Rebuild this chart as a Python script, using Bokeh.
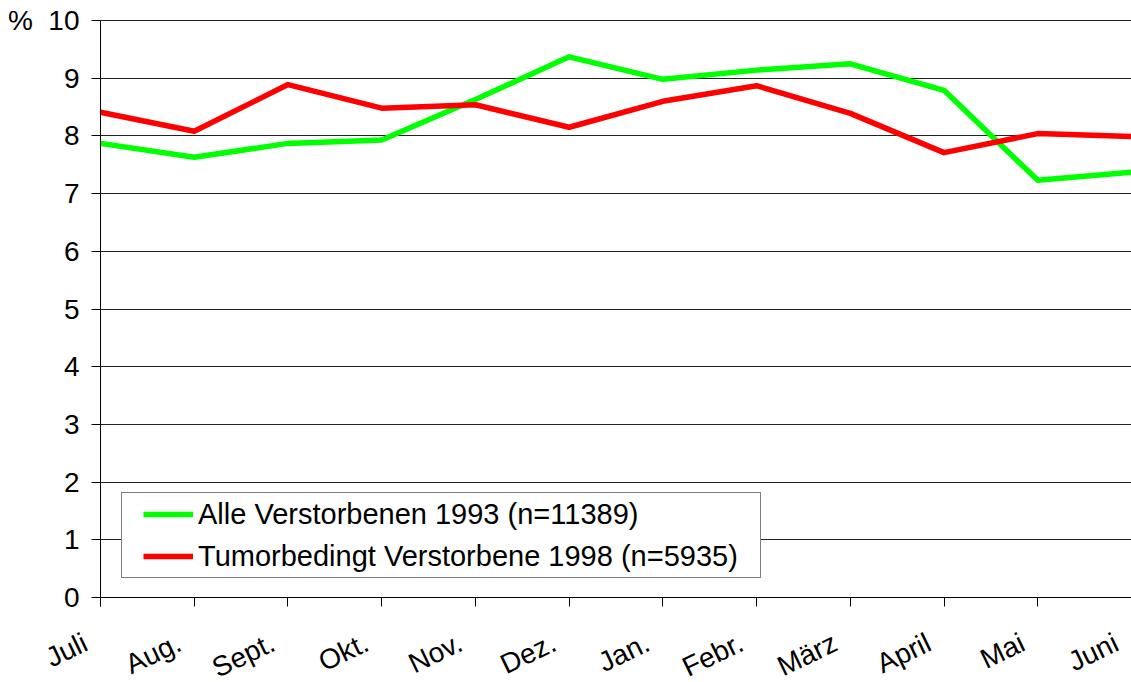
from bokeh.plotting import figure
from bokeh.models import Range1d, FixedTicker, Legend, LegendItem, LabelSet, ColumnDataSource
from bokeh.core.properties import value
from bokeh.embed import file_html
from bokeh.resources import INLINE

months = ["Juli", "Aug.", "Sept.", "Okt.", "Nov.", "Dez.", "Jan.", "Febr.", "März", "April", "Mai", "Juni"]
alle_1993 = [7.87, 7.63, 7.87, 7.93, 8.63, 9.37, 8.98, 9.14, 9.25, 8.79, 7.23, 7.37]
tumor_1998 = [8.41, 8.08, 8.89, 8.48, 8.54, 8.15, 8.60, 8.87, 8.39, 7.71, 8.04, 7.99]
y_ticks = [0, 1, 2, 3, 4, 5, 6, 7, 8, 9, 10]
y_unit = "%"
label_alle = "Alle Verstorbenen 1993 (n=11389)"
label_tumor = "Tumorbedingt Verstorbene 1998 (n=5935)"

xs = list(range(len(months)))
n_last = len(months) - 1
y_max = 10

# layout: the frame fills the whole canvas; axes sit at fixed data locations
W, H = 1131, 682
TOP_SPACE, BOTTOM_SPACE, LEFT_SPACE = 20, 85, 100
py_per_unit = (H - TOP_SPACE - BOTTOM_SPACE) / y_max
px_per_unit = (W - LEFT_SPACE) / n_last
y_start = -BOTTOM_SPACE / py_per_unit
y_end = y_max + TOP_SPACE / py_per_unit
x_start = -LEFT_SPACE / px_per_unit

p = figure(width=W, height=H, output_backend="svg", toolbar_location=None,
           x_range=Range1d(x_start, n_last), y_range=Range1d(y_start, y_end),
           min_border_left=0, min_border_right=0, min_border_top=0, min_border_bottom=0)
p.background_fill_color = "white"
p.border_fill_color = "white"
p.outline_line_color = None

FONT = "Liberation Sans"

p.xaxis.ticker = FixedTicker(ticks=xs)
p.xaxis.fixed_location = 0
p.xaxis.bounds = (0, n_last)
p.yaxis.ticker = FixedTicker(ticks=y_ticks)
p.yaxis.fixed_location = 0
p.yaxis.bounds = (-9 / py_per_unit, y_max)
p.yaxis.major_label_overrides = {y_max: y_unit + "\u00a0\u00a0" + str(y_max)}
for ax in (p.xaxis, p.yaxis):
    ax.axis_line_color = "black"
    ax.axis_line_width = 1
    ax.major_tick_line_color = "black"
    ax.major_tick_in = 0
    ax.major_tick_out = 9
    ax.minor_tick_line_color = None
    ax.major_label_text_font = FONT
    ax.major_label_text_font_size = "28px"
    ax.major_label_text_color = "black"
p.yaxis.major_label_standoff = 12
p.xaxis.major_label_text_color = None

p.xgrid.grid_line_color = None
p.ygrid.ticker = FixedTicker(ticks=y_ticks)
p.ygrid.grid_line_color = "#222222"
p.ygrid.grid_line_width = 1
try:
    p.ygrid.cross_bounds = (0, n_last)
except Exception:
    pass

r1 = p.line(xs, alle_1993, line_color="#00FF00", line_width=5.5, line_join="round")
r2 = p.line(xs, tumor_1998, line_color="#FF0000", line_width=5.5, line_join="round")

lab_src = ColumnDataSource(dict(x=xs, y=[0] * len(xs), text=months))
p.add_layout(LabelSet(x="x", y="y", text="text", source=lab_src,
                      x_offset=-11, y_offset=-52, angle=0.45,
                      text_align="right", text_baseline="alphabetic",
                      text_font=value(FONT), text_font_size="28px", text_color="black"))

legend = Legend(items=[LegendItem(label=label_alle, renderers=[r1]),
                       LegendItem(label=label_tumor, renderers=[r2])],
                location=(21 + LEFT_SPACE, 19 + BOTTOM_SPACE))
legend.label_text_font = FONT
legend.label_text_font_size = "29px"
legend.label_text_color = "black"
legend.glyph_width = 50
legend.glyph_height = 34
legend.label_height = 34
legend.label_standoff = 5
legend.spacing = 8
try:
    legend.padding = (21, 22, 4, 4)
except Exception:
    legend.padding = 4
legend.border_line_color = "black"
legend.border_line_width = 1
legend.background_fill_color = "white"
legend.background_fill_alpha = 1
p.add_layout(legend, "center")

open("out.html", "w").write(file_html(p, INLINE))
